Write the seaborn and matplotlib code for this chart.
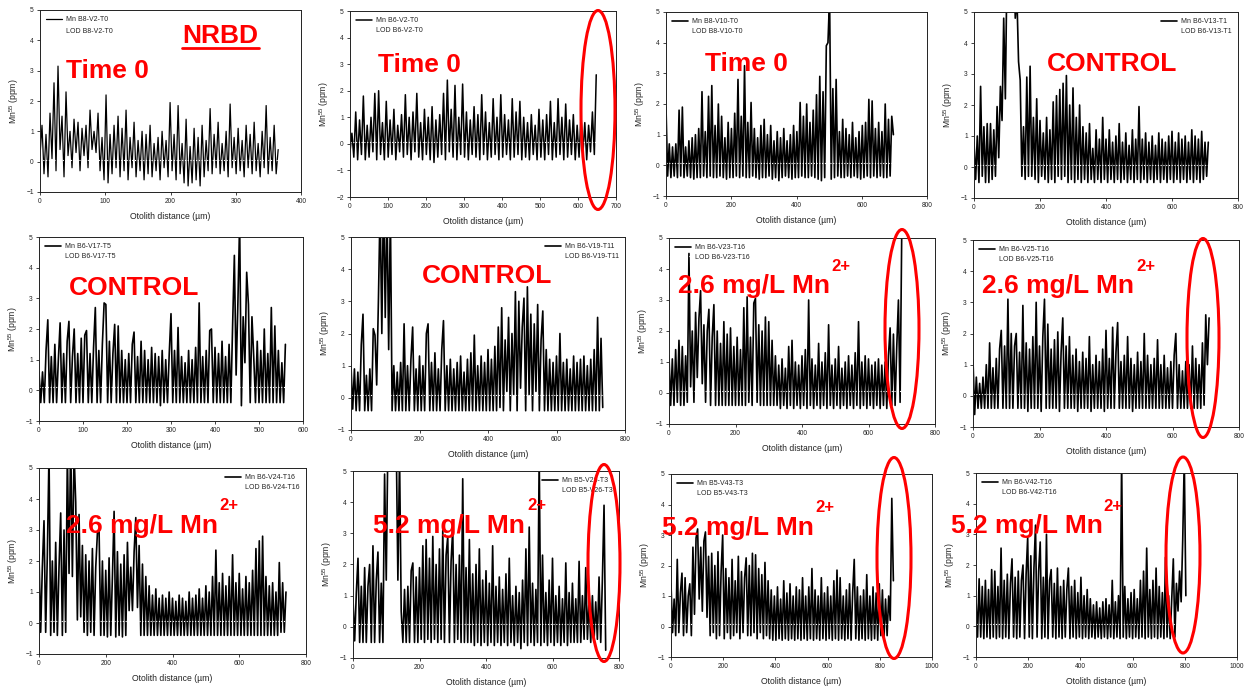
import numpy as np
import matplotlib
matplotlib.use("Agg")
import matplotlib.pyplot as plt
import seaborn as sns
from matplotlib.patches import Ellipse
from matplotlib.lines import Line2D

# ---------------- data ----------------
samples = ["B8-V2-T0", "B6-V2-T0", "B8-V10-T0", "B6-V13-T1",
           "B6-V17-T5", "B6-V19-T11", "B6-V23-T16", "B6-V25-T16",
           "B6-V24-T16", "B5-V26-T3", "B5-V43-T3", "B6-V42-T16"]
distance_end = [365, 648, 697, 710, 560, 735, 700, 710, 740, 760, 852, 804]
lod_level = [0.07, 0.08, 0.08, 0.08, 0.1, 0.1, 0.08, 0.06, 0.08, 0.1, 0.08, 0.08]
x_axis_max = [400, 700, 800, 800, 600, 800, 800, 800, 800, 800, 1000, 1000]
x_tick_step = [100, 100, 200, 200, 100, 200, 200, 200, 200, 200, 200, 200]
y_axis_min = [-1, -2, -1, -1, -1, -1, -1, -1, -1, -1, -1, -1]
y_axis_max = 5

mn_b8_v2_t0 = [0.2, 1.2, -0.4, 0.9, -0.5, 1.6, 0.1, 2.6, -0.3, 3.15,
               0.4, 1.5, -0.5, 2.3, 0.2, 1.0, -0.2, 1.4, 0.3, 1.3,
               -0.3, 1.1, 0.2, 1.2, -0.2, 1.7, 0.4, 1.0, 0.3, 1.6,
               -0.3, 0.8, -0.6, 2.2, -0.7, 0.9, -0.4, 1.2, -0.2, 1.5,
               -0.5, 1.1, -0.3, 1.7, -0.6, 0.8, -0.2, 1.3, -0.5, 0.7,
               -0.3, 1.0, -0.6, 0.9, -0.4, 1.2, -0.5, 0.6, -0.3, 0.8,
               -0.6, 1.0, -0.2, 0.7, -0.5, 1.95, -0.3, 0.9, -0.6, 1.85,
               -0.4, 0.6, -0.7, 1.4, -0.8, 0.5, -0.7, 1.1, -0.6, 0.8,
               -0.8, 1.2, -0.5, 0.7, -0.3, 1.75, -0.4, 0.9, -0.2, 1.3,
               -0.4, 0.6, -0.3, 1.0, -0.5, 1.9, -0.2, 0.8, -0.4, 1.1,
               -0.3, 0.7, -0.5, 1.2, -0.2, 0.9, -0.4, 1.3, -0.3, 0.6,
               -0.5, 1.0, -0.2, 1.85, -0.4, 0.8, -0.3, 1.2, -0.4, 0.4]

mn_b6_v2_t0 = [-0.3, 0.4, -0.5, 1.2, -0.6, 0.9, -0.4, 1.8, -0.6, 0.7,
               -0.5, 1.0, -0.3, 1.9, -0.6, 2.0, -0.4, 0.8, -0.6, 1.6,
               -0.5, 0.9, -0.4, 1.3, -0.6, 0.7, -0.3, 1.1, -0.5, 1.85,
               -0.4, 1.0, -0.6, 1.2, -0.3, 1.9, -0.5, 0.8, -0.6, 1.3,
               -0.4, 1.0, -0.6, 1.4, -0.7, 0.9, -0.5, 1.1, -0.4, 1.9,
               -0.6, 2.4, -0.3, 1.3, -0.5, 2.2, -0.6, 1.0, -0.4, 2.25,
               -0.5, 1.2, -0.6, 0.9, -0.4, 1.4, -0.5, 1.1, -0.6, 1.85,
               -0.4, 1.2, -0.6, 0.8, -0.5, 1.7, -0.4, 1.0, -0.6, 1.85,
               -0.5, 1.1, -0.4, 0.9, -0.6, 1.7, -0.5, 1.2, -0.4, 1.6,
               -0.6, 1.0, -0.5, 0.8, -0.6, 1.1, -0.4, 0.7, -0.6, 1.3,
               -0.5, 0.9, -0.6, 1.1, -0.4, 1.6, -0.6, 0.8, -0.5, 1.7,
               -0.4, 1.0, -0.6, 1.5, -0.5, 0.9, -0.4, 1.1, -0.6, 0.7,
               -0.5, 1.0, -0.4, 0.8, -0.6, 0.7, -0.3, 1.2, -0.4, 2.6]

mn_b8_v10_t0 = [1.9, -0.35, 0.7, -0.4, 0.6, -0.35, 0.7, -0.4, 1.8, -0.35,
                1.9, -0.4, 0.6, -0.35, 0.8, -0.4, 0.9, -0.45, 1.0, -0.4,
                1.2, -0.4, 2.4, -0.35, 1.1, -0.4, 2.25, -0.35, 2.6, -0.4,
                1.3, -0.4, 2.0, -0.35, 1.6, -0.4, 0.9, -0.45, 1.4, -0.4,
                1.2, -0.4, 1.7, -0.35, 2.8, -0.4, 1.6, -0.35, 3.25, -0.4,
                1.4, -0.4, 2.05, -0.35, 1.2, -0.4, 0.9, -0.45, 1.3, -0.4,
                1.5, -0.4, 1.0, -0.35, 1.3, -0.45, 0.8, -0.4, 1.1, -0.5,
                0.9, -0.4, 1.2, -0.35, 0.8, -0.4, 1.0, -0.45, 1.3, -0.4,
                1.1, -0.4, 2.05, -0.35, 1.6, -0.4, 2.0, -0.4, 1.4, -0.35,
                1.8, -0.4, 2.3, -0.45, 2.9, -0.5, 2.4, -0.4, 3.9, 4.0,
                5.5, -0.45, 2.5, -0.4, 2.8, -0.35, 1.1, -0.4, 1.5, -0.4,
                1.2, -0.35, 1.0, -0.4, 1.4, -0.35, 0.9, -0.4, 1.1, -0.45,
                1.3, -0.4, 1.4, -0.35, 2.15, -0.4, 2.1, -0.35, 1.2, -0.4,
                1.4, -0.35, 1.1, -0.4, 2.0, -0.4, 1.5, -0.35, 1.6, 1.0]

mn_b6_v13_t1 = [0.8, -0.4, 1.0, -0.5, 2.6, -0.3, 1.3, -0.5, 1.4, -0.5,
                1.4, -0.4, 1.2, -0.3, 1.95, 0.3, 2.6, 1.5, 4.8, 2.2,
                6.5, 7.5, 8.0, 8.0, 7.0, 4.8, 5.5, 3.4, 2.8, -0.3,
                1.3, -0.4, 2.9, -0.3, 3.25, -0.3, 1.6, -0.4, 2.2, -0.5,
                1.5, -0.3, 1.1, -0.4, 1.6, -0.5, 1.2, -0.4, 2.1, -0.5,
                2.3, -0.3, 2.5, -0.4, 2.7, -0.3, 2.95, -0.5, 2.0, -0.4,
                2.55, -0.5, 1.6, -0.4, 2.0, -0.5, 1.3, -0.4, 1.1, -0.5,
                1.4, -0.4, 0.6, -0.5, 1.2, -0.4, 0.9, -0.5, 1.6, -0.4,
                0.9, -0.5, 1.2, -0.4, 0.8, -0.5, 1.0, -0.4, 1.4, -0.5,
                0.8, -0.4, 1.1, -0.5, 0.7, -0.4, 1.2, -0.5, 0.9, -0.4,
                1.95, -0.5, 0.9, -0.4, 1.1, -0.5, 0.8, -0.4, 1.0, -0.5,
                0.7, -0.4, 1.1, -0.5, 0.9, -0.4, 0.8, -0.5, 1.0, -0.4,
                1.15, -0.5, 0.8, -0.4, 1.1, -0.5, 0.9, -0.4, 1.0, -0.5,
                0.8, -0.4, 1.2, -0.5, 1.0, -0.4, 0.9, -0.5, 1.15, -0.4,
                0.8, -0.3, 0.8]

mn_b6_v17_t5 = [0.6, -0.4, 0.6, -0.4, 1.3, 2.3, -0.4, 1.1, -0.4, 1.5,
                -0.4, 1.0, 2.2, -0.4, 1.2, -0.4, 1.6, 2.25, -0.4, 1.1,
                2.0, -0.4, 1.2, -0.4, 1.7, -0.4, 1.8, 1.95, -0.4, 1.2,
                -0.4, 1.4, 2.7, -0.4, 1.3, -0.4, 1.5, 2.85, 2.8, -0.4,
                1.6, -0.4, 1.2, 2.15, -0.4, 2.1, -0.4, 1.3, -0.4, 1.0,
                -0.4, 1.2, -0.4, 1.5, 1.9, -0.4, 1.1, -0.4, 1.6, -0.4,
                1.3, -0.4, 1.0, -0.4, 1.4, -0.4, 1.2, -0.4, 1.1, -0.5,
                1.3, -0.4, 1.0, -0.4, 1.2, 2.5, -0.4, 1.3, -0.4, 2.05,
                -0.4, 1.1, -0.4, 0.9, -0.4, 1.3, -0.4, 1.0, -0.4, 1.4,
                -0.4, 2.85, -0.4, 1.1, -0.4, 1.3, -0.4, 1.95, 2.0, -0.4,
                1.4, -0.4, 1.2, -0.4, 1.6, -0.4, 1.1, -0.4, 1.5, -0.4,
                2.1, 4.4, 0.5, 2.85, 5.5, -0.5, 2.4, 0.9, 3.85, 2.8,
                -0.4, 2.4, 1.1, -0.4, 1.6, -0.4, 1.3, -0.4, 2.0, -0.4,
                1.2, -0.4, 2.7, -0.4, 2.1, -0.4, 1.3, -0.4, 0.9, -0.4,
                1.5]

mn_b6_v19_t11 = [1.0, -0.35, 0.9, -0.4, 0.8, -0.4, 1.65, 2.6, -0.4, 0.7,
                 -0.4, 0.9, -0.4, 2.15, 1.95, 0.4, 3.0, 6.0, 2.0, 6.5,
                 2.5, 6.0, 1.5, 5.8, -0.4, 1.0, -0.4, 0.8, -0.4, 1.1,
                 -0.4, 2.3, -0.4, 1.0, -0.4, 1.2, 2.2, -0.4, 0.9, -0.4,
                 1.3, -0.4, 1.0, -0.4, 2.0, 2.3, -0.4, 1.1, -0.4, 1.4,
                 -0.4, 0.9, -0.4, 1.5, 2.4, -0.4, 1.0, -0.4, 1.2, -0.4,
                 0.9, -0.4, 1.1, -0.4, 1.3, -0.4, 0.8, -0.4, 1.2, -0.4,
                 1.4, -0.4, 1.95, -0.4, 1.0, -0.4, 1.3, -0.4, 1.1, -0.4,
                 1.5, -0.4, 1.2, -0.4, 1.6, -0.4, 2.2, -0.3, 2.8, -0.4,
                 1.8, 0.2, 2.5, -0.4, 2.0, 0.1, 3.3, -0.4, 3.0, 0.3,
                 2.2, 3.1, -0.4, 3.45, 0.1, 2.6, -0.4, 2.3, 0.2, 2.9,
                 -0.4, 1.8, 2.7, -0.4, 1.5, -0.4, 1.2, -0.4, 1.1, -0.4,
                 1.3, -0.4, 2.0, -0.4, 1.1, -0.4, 1.2, -0.4, 0.9, -0.4,
                 1.3, -0.4, 1.1, -0.4, 1.2, -0.4, 1.3, -0.4, 1.0, -0.4,
                 1.2, -0.4, 1.5, -0.4, 2.5, -0.4, 1.85, -0.3]

mn_b6_v23_t16 = [1.2, -0.4, 1.1, -0.4, 1.4, -0.3, 1.7, -0.4, 1.5, -0.4,
                 1.2, -0.3, 4.5, 0.2, 2.0, -0.3, 2.6, 0.5, 2.4, 3.3,
                 0.3, 2.2, -0.3, 2.0, 2.7, -0.4, 1.8, 2.85, -0.4, 2.0,
                 -0.4, 1.6, -0.4, 2.3, -0.4, 1.9, -0.4, 2.1, -0.4, 1.5,
                 -0.4, 1.8, -0.4, 1.4, -0.4, 2.75, -0.4, 3.1, -0.3, 1.8,
                 -0.4, 2.9, 3.05, -0.3, 2.2, -0.4, 2.0, -0.4, 2.45, -0.4,
                 2.3, -0.4, 1.7, -0.4, 1.2, -0.4, 0.9, -0.5, 1.1, -0.4,
                 0.8, -0.5, 1.5, -0.4, 1.7, -0.5, 1.0, -0.4, 0.9, -0.5,
                 1.2, -0.4, 1.4, -0.5, 3.0, -0.4, 1.1, -0.5, 0.9, -0.4,
                 1.6, -0.5, 1.0, -0.4, 1.3, -0.5, 2.2, -0.4, 0.9, -0.5,
                 1.1, -0.4, 1.5, -0.5, 0.8, -0.4, 1.0, -0.5, 1.2, -0.4,
                 0.9, -0.5, 1.3, -0.4, 2.3, -0.5, 1.0, -0.4, 1.2, -0.5,
                 1.1, -0.4, 0.9, -0.5, 1.0, -0.4, 1.1, -0.5, 0.9, -0.4,
                 1.0, -0.5, 1.2, 2.1, -0.4, 1.9, -0.4, 1.5, 3.0, -0.3,
                 5.2]

mn_b6_v25_t16 = [1.15, -0.6, 0.6, -0.4, 0.4, -0.4, 0.6, -0.4, 1.0, -0.4,
                 1.7, -0.4, 0.9, -0.4, 1.2, -0.4, 1.5, 2.1, -0.4, 1.6,
                 -0.4, 3.1, -0.4, 2.0, -0.4, 1.6, 2.0, -0.4, 1.4, -0.4,
                 2.9, -0.4, 1.7, -0.5, 1.5, -0.4, 1.9, -0.4, 3.0, -0.4,
                 1.6, -0.5, 1.9, 3.1, -0.4, 2.3, -0.4, 1.5, -0.4, 1.8,
                 -0.4, 2.05, -0.5, 1.4, 2.5, -0.4, 1.6, -0.4, 1.9, -0.4,
                 1.3, -0.4, 1.5, -0.5, 1.1, -0.4, 1.4, -0.4, 1.2, -0.4,
                 1.9, -0.5, 1.0, -0.4, 1.3, -0.4, 1.1, -0.4, 1.5, -0.5,
                 2.1, -0.4, 1.2, -0.4, 2.2, -0.4, 1.4, 2.35, -0.4, 1.1,
                 -0.4, 1.3, -0.4, 1.9, -0.4, 1.2, -0.5, 1.0, -0.4, 1.4,
                 -0.4, 1.1, -0.4, 2.0, -0.4, 1.3, -0.4, 1.0, -0.4, 1.2,
                 -0.4, 1.8, -0.4, 1.0, -0.4, 1.3, -0.4, 0.9, -0.4, 1.1,
                 -0.4, 1.3, 2.0, -0.4, 1.0, -0.4, 0.8, -0.4, 1.1, -0.4,
                 1.0, -0.4, 1.6, -0.4, 1.2, -0.4, 1.0, -0.4, 1.7, -0.3,
                 2.6, 1.0, 2.5]

mn_b6_v24_t16 = [2.2, -0.3, 1.8, 3.3, -0.3, 2.2, 5.5, -0.4, 2.0, -0.3,
                 2.6, -0.4, 1.8, 3.55, -0.4, 3.0, -0.3, 5.5, 1.6, 6.0,
                 1.5, 5.5, 3.9, 0.1, 3.5, 0.2, 2.5, -0.3, 2.2, -0.4,
                 2.0, -0.3, 2.4, -0.4, 1.8, 2.9, 3.0, -0.4, 2.0, -0.4,
                 1.7, -0.45, 2.1, -0.4, 1.5, 3.6, -0.45, 2.3, -0.4, 1.9,
                 -0.45, 2.2, -0.4, 2.6, 0.4, 1.8, 0.4, 2.3, 3.4, 0.5,
                 2.5, -0.4, 1.9, -0.4, 1.5, -0.4, 1.2, -0.4, 0.9, -0.4,
                 1.1, -0.4, 0.8, -0.4, 0.9, -0.4, 0.8, -0.4, 1.0, -0.4,
                 0.8, -0.4, 0.7, -0.4, 0.9, -0.4, 0.8, -0.4, 0.7, -0.4,
                 1.0, -0.4, 0.8, -0.4, 0.9, -0.4, 1.1, -0.4, 0.8, -0.4,
                 1.2, -0.4, 1.0, -0.4, 1.5, -0.4, 2.35, -0.4, 1.3, -0.4,
                 1.6, -0.4, 1.2, -0.4, 1.5, -0.4, 2.2, -0.4, 1.3, -0.4,
                 1.6, -0.4, 1.1, -0.4, 1.5, -0.4, 1.3, -0.4, 1.7, -0.4,
                 2.4, -0.4, 2.65, -0.4, 2.8, -0.4, 1.5, -0.4, 1.2, -0.4,
                 1.3, -0.4, 1.0, -0.4, 1.95, -0.3, 1.3, -0.3, 1.0]

mn_b5_v26_t3 = [0.9, -0.45, 1.1, 2.2, -0.5, 1.3, -0.5, 1.9, -0.5, 1.3,
                2.0, -0.5, 2.6, -0.5, 1.5, 2.4, -0.5, 1.4, -0.5, 4.9,
                1.5, 6.0, 7.0, 8.0, 8.0, 7.0, 6.0, 1.5, 5.5, 0.5,
                -0.5, 1.2, -0.5, 1.3, -0.5, 1.8, 2.05, -0.5, 1.6, -0.5,
                1.9, -0.4, 2.6, -0.5, 2.8, -0.4, 2.2, -0.5, 2.9, -0.4,
                2.0, -0.5, 2.5, -0.4, 3.1, -0.5, 2.3, 2.9, -0.5, 2.1,
                3.15, -0.5, 2.0, -0.4, 2.3, -0.5, 4.75, -0.5, 1.9, -0.5,
                2.8, -0.5, 1.7, -0.6, 2.0, -0.5, 2.5, -0.6, 1.5, -0.5,
                1.8, -0.6, 1.4, -0.5, 2.6, -0.6, 1.3, -0.5, 1.6, -0.6,
                1.2, -0.5, 1.7, -0.6, 2.2, -0.5, 1.0, -0.6, 1.3, -0.5,
                1.1, -0.7, 1.5, -0.5, 2.5, -0.6, 3.2, -0.5, 1.4, -0.6,
                1.2, -0.5, 5.5, -0.6, 2.3, -0.5, 1.1, -0.6, 1.5, -0.5,
                2.2, -0.6, 1.0, -0.5, 1.3, -0.6, 0.9, -0.5, 2.05, -0.6,
                1.1, -0.5, 1.4, -0.5, 0.9, -0.5, 2.1, -0.5, 1.0, -0.4,
                1.9, -0.4, 0.9, -0.5, 1.0, -0.4, 0.8, -0.4, 1.6, -0.5,
                1.5, 3.9, -0.75]

mn_b5_v43_t3 = [1.4, -0.2, 0.9, -0.3, 2.2, -0.2, 1.1, 1.75, -0.3, 1.6,
                -0.2, 1.0, 1.4, -0.3, 2.6, 0.4, 2.9, 3.2, 0.9, 2.6,
                0.5, 2.8, 3.1, 0.3, 2.3, -0.3, 2.4, -0.2, 2.0, -0.4,
                2.45, -0.3, 1.8, 3.0, -0.4, 1.9, -0.2, 1.6, -0.4, 2.2,
                -0.3, 1.5, -0.2, 2.3, -0.4, 1.8, -0.2, 1.6, 2.25, -0.3,
                2.0, -0.3, 2.4, -0.2, 2.35, -0.4, 1.9, -0.2, 1.7, -0.4,
                2.1, -0.3, 1.5, -0.4, 1.2, -0.45, 1.0, -0.45, 1.3, -0.4,
                0.9, -0.45, 1.5, -0.4, 1.1, -0.45, 1.4, -0.4, 1.0, -0.45,
                1.3, -0.4, 1.2, -0.45, 1.6, -0.4, 1.0, -0.45, 1.3, -0.4,
                1.9, -0.45, 1.2, -0.4, 1.0, -0.45, 1.6, -0.4, 1.1, -0.45,
                1.3, -0.4, 1.0, -0.45, 1.5, -0.4, 1.85, -0.45, 1.6, -0.4,
                1.0, -0.45, 1.2, -0.4, 1.4, -0.45, 1.1, 2.2, -0.4, 1.3,
                -0.45, 1.0, -0.4, 1.2, -0.45, 1.7, -0.4, 1.0, -0.45, 1.3,
                -0.4, 1.1, -0.45, 1.4, -0.3, 1.2, -0.4, 0.9, -0.3, 1.0,
                0.2, 4.2, 1.5]

mn_b6_v42_t16 = [0.9, -0.35, 1.55, -0.35, 1.3, -0.4, 1.5, -0.35, 1.2, -0.4,
                 1.85, -0.35, 1.8, -0.4, 1.3, -0.35, 2.55, -0.4, 1.5, -0.35,
                 1.7, -0.4, 1.4, 2.2, -0.35, 1.6, -0.4, 1.8, -0.35, 1.5,
                 2.0, -0.4, 1.7, 2.9, -0.35, 2.3, -0.4, 1.9, 3.3, -0.35,
                 1.8, 2.75, -0.4, 1.6, -0.35, 3.0, -0.4, 1.5, 1.85, -0.35,
                 1.4, -0.4, 1.9, -0.35, 1.3, -0.4, 1.5, -0.35, 1.2, 1.9,
                 -0.4, 1.3, -0.35, 1.5, -0.4, 1.1, -0.35, 1.6, -0.4, 1.0,
                 -0.35, 1.2, -0.4, 0.9, -0.35, 0.7, -0.4, 0.8, -0.35, 0.6,
                 -0.4, 0.8, -0.35, 0.9, -0.4, 0.7, -0.35, 1.5, -0.4, 0.8,
                 -0.35, 1.0, -0.4, 5.5, -0.35, 1.3, -0.4, 0.9, -0.35, 1.1,
                 -0.4, 1.2, -0.35, 0.9, -0.4, 1.5, -0.35, 1.8, -0.4, 2.55,
                 -0.35, 1.2, -0.4, 1.5, -0.35, 1.9, -0.4, 1.3, -0.35, 1.1,
                 -0.4, 2.25, -0.35, 1.0, -0.4, 0.9, 2.2, -0.35, 1.4, 0.5,
                 1.8, 0.8, 2.8, 5.5, 1.0]

mn_series = [mn_b8_v2_t0, mn_b6_v2_t0, mn_b8_v10_t0, mn_b6_v13_t1,
             mn_b6_v17_t5, mn_b6_v19_t11, mn_b6_v23_t16, mn_b6_v25_t16,
             mn_b6_v24_t16, mn_b5_v26_t3, mn_b5_v43_t3, mn_b6_v42_t16]

# ---------------- layout / styling ----------------
W, H = 1249, 694
axes_px = [(40, 10, 301, 192), (350, 11, 616, 197), (666, 12, 927, 196), (974, 12, 1238, 198),
           (39, 237, 303, 421), (351, 237, 625, 430), (669, 238, 935, 424), (973, 240, 1239, 427),
           (39, 468, 306, 654), (353, 471, 619, 658), (671, 474, 932, 657), (976, 473, 1237, 657)]
legend_loc = ["upper left", "upper left", "upper left", "upper right",
              "upper left", "upper right", "upper left", "upper left",
              "upper right", "upper right", "upper left", "upper left"]
legend_spacing = [0.75, 0.35, 0.35, 0.35, 0.35, 0.35, 0.35, 0.35, 0.35, 0.35, 0.35, 0.35]
data_lw = [0.9, 1.1, 1.2, 1.2, 1.2, 1.2, 1.2, 1.2, 1.2, 1.2, 1.2, 1.2]

sns.set_style("ticks")
plt.rcParams["font.family"] = ["Liberation Sans", "DejaVu Sans"]
plt.rcParams["mathtext.fontset"] = "custom"
plt.rcParams["mathtext.rm"] = "Liberation Sans"
plt.rcParams["mathtext.it"] = "Liberation Sans:italic"
plt.rcParams["mathtext.bf"] = "Liberation Sans:bold"

fig = plt.figure(figsize=(W / 100, H / 100), dpi=100)
fig.patch.set_facecolor("white")

for i in range(12):
    l, t, r, b = axes_px[i]
    ax = fig.add_axes([l / W, 1 - b / H, (r - l) / W, (b - t) / H])
    y = np.array(mn_series[i], dtype=float)
    x = np.linspace(0, distance_end[i], len(y))
    sns.lineplot(x=x, y=y, ax=ax, color="black", linewidth=data_lw[i],
                 sort=False, estimator=None, label=f"Mn {samples[i]}")
    sns.lineplot(x=[0, distance_end[i]], y=[lod_level[i], lod_level[i]], ax=ax,
                 color="white", linewidth=0.8, linestyle=(0, (1, 1.5)),
                 sort=False, estimator=None, label=f"LOD {samples[i]}")
    ax.set_xlim(0, x_axis_max[i])
    ax.set_ylim(y_axis_min[i], y_axis_max)
    ax.set_xticks(np.arange(0, x_axis_max[i] + 1, x_tick_step[i]))
    ax.set_yticks(np.arange(y_axis_min[i], y_axis_max + 1, 1))
    ax.tick_params(axis="both", direction="out", length=2.5, width=0.6,
                   pad=2, labelsize=4.8, colors="#222222")
    for sp in ax.spines.values():
        sp.set_visible(True)
        sp.set_linewidth(0.7)
        sp.set_color("#222222")
    ax.set_xlabel("Otolith distance (\u00b5m)", fontsize=6.2, labelpad=5, color="#222222")
    ax.set_ylabel("Mn$^{55}$ (ppm)", fontsize=6.2, labelpad=4, color="#222222")
    ax.set_facecolor("white")
    leg = ax.legend(loc=legend_loc[i], fontsize=5, frameon=False,
                    handlelength=2.3, handletextpad=0.6,
                    labelspacing=legend_spacing[i], borderaxespad=0.6, borderpad=0.3)
    for txt in leg.get_texts():
        txt.set_color("#222222")

# ---------------- red annotations ----------------
red = "#ff0000"
big = 19
main_labels = [("Time 0", 66, 78), ("NRBD", 182, 43), ("Time 0", 378, 72),
               ("Time 0", 705, 71), ("CONTROL", 1047, 71), ("CONTROL", 69, 295),
               ("CONTROL", 422, 283), ("2.6 mg/L Mn", 678, 293), ("2.6 mg/L Mn", 982, 293),
               ("2.6 mg/L Mn", 66, 533), ("5.2 mg/L Mn", 373, 533), ("5.2 mg/L Mn", 662, 535),
               ("5.2 mg/L Mn", 951, 533)]
for s, px, py in main_labels:
    fig.text(px / W, 1 - py / H, s, color=red, fontsize=big, fontweight="bold",
             ha="left", va="baseline")

sup_labels = [(831, 271), (1136, 271), (219, 510), (527, 510), (815, 512), (1103, 511)]
for px, py in sup_labels:
    fig.text(px / W, 1 - py / H, "2+", color=red, fontsize=12, fontweight="bold",
             ha="left", va="baseline")

fig.add_artist(Line2D([182 / W, 259 / W], [1 - 48 / H, 1 - 48 / H],
                      transform=fig.transFigure, color=red, linewidth=2.0))

ellipses = [(598, 110, 34, 199), (902, 329, 34, 199), (1203, 338, 32, 199),
            (604, 563, 32, 197), (894, 558, 34, 201), (1183, 555, 34, 196)]
for cx, cy, w, h in ellipses:
    fig.add_artist(Ellipse((cx / W, 1 - cy / H), w / W, h / H, transform=fig.transFigure,
                           fill=False, edgecolor=red, linewidth=2.2))

fig.savefig("out.png", dpi=100, facecolor="white")
